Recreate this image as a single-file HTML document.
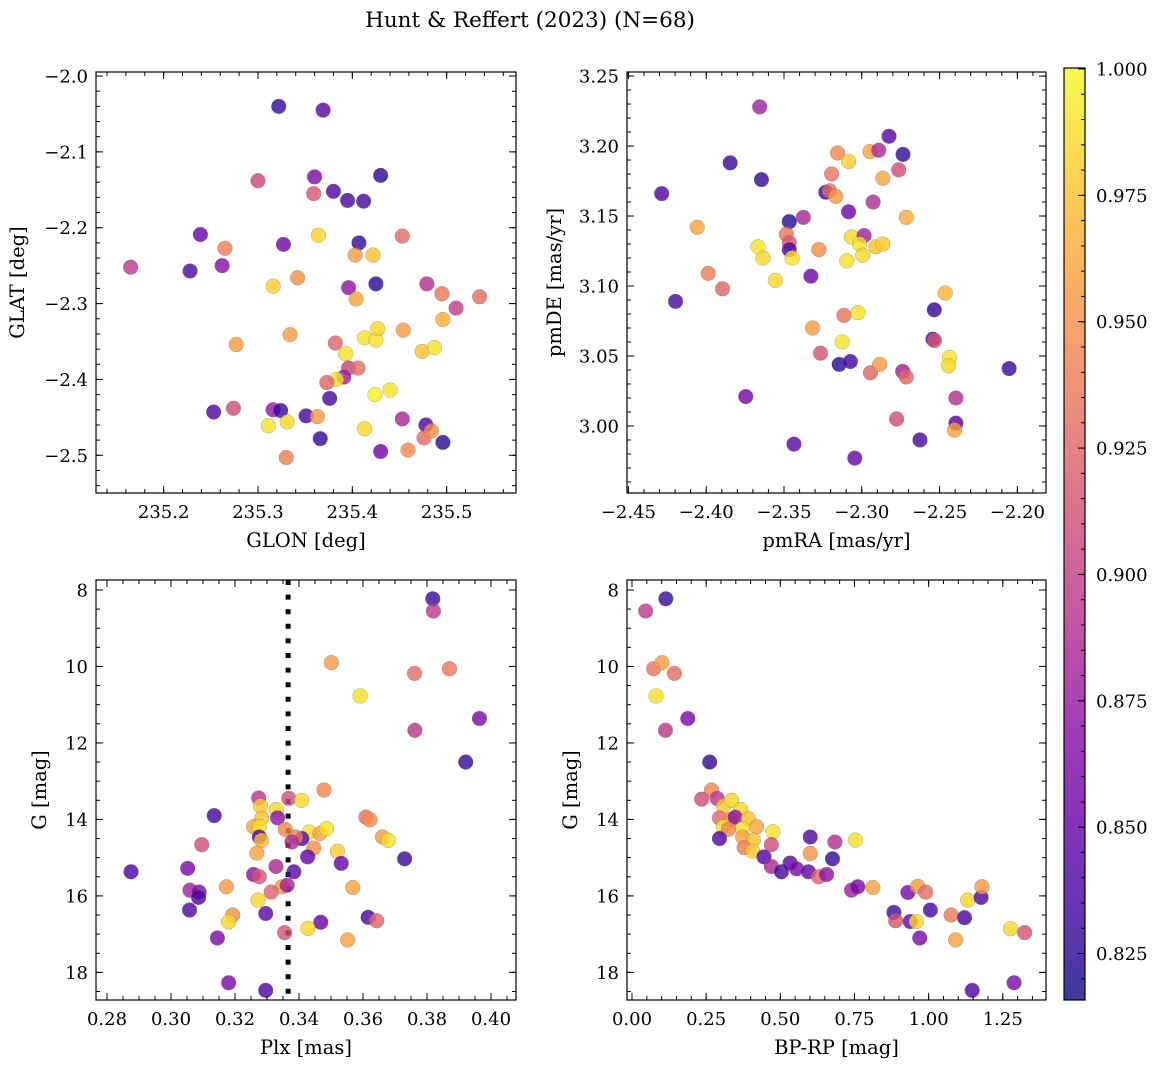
<!DOCTYPE html>
<html><head><meta charset="utf-8"><style>
html,body{margin:0;padding:0;background:#fff;}
svg{display:block;font-family:"DejaVu Serif","Liberation Serif",serif;}
</style></head><body>
<svg id="fig" width="1161" height="1068" viewBox="0 0 1161 1068" xmlns="http://www.w3.org/2000/svg">
<text x="530" y="27" font-size="21.5" text-anchor="middle">Hunt &amp; Reffert (2023) (N=68)</text>
</svg>
<script>
// ---- Panel 1: GLON vs GLAT ----
const p1_x=[235.322,235.369,235.300,235.360,235.430,235.359,235.380,235.395,235.412,235.239,235.265,235.165,235.228,235.262,235.327,235.364,235.407,235.453,235.403,235.422,235.316,235.342,235.396,235.425,235.479,235.495,235.510,235.535,235.404,235.496,235.277,235.334,235.382,235.413,235.425,235.427,235.454,235.393,235.474,235.487,235.396,235.406,235.391,235.383,235.373,235.440,235.424,235.376,235.253,235.274,235.316,235.324,235.311,235.331,235.351,235.363,235.366,235.330,235.413,235.430,235.453,235.459,235.478,235.476,235.484,235.496];
const p1_y=[-2.040,-2.045,-2.138,-2.133,-2.131,-2.155,-2.152,-2.164,-2.165,-2.209,-2.227,-2.252,-2.257,-2.250,-2.222,-2.210,-2.220,-2.211,-2.236,-2.236,-2.277,-2.266,-2.279,-2.274,-2.274,-2.287,-2.306,-2.291,-2.294,-2.321,-2.354,-2.341,-2.352,-2.345,-2.348,-2.333,-2.335,-2.366,-2.363,-2.358,-2.385,-2.385,-2.397,-2.400,-2.404,-2.414,-2.420,-2.425,-2.443,-2.438,-2.440,-2.441,-2.461,-2.456,-2.448,-2.449,-2.478,-2.503,-2.465,-2.495,-2.452,-2.493,-2.460,-2.477,-2.468,-2.483];
const p1_c=[.83,.845,.905,.86,.825,.915,.84,.84,.835,.85,.94,.895,.84,.865,.855,.985,.83,.93,.955,.975,.98,.95,.87,.825,.89,.935,.90,.93,.96,.965,.955,.955,.925,.99,.99,.985,.955,.99,.975,.99,.905,.93,.88,.99,.925,.99,.995,.835,.84,.91,.875,.83,.99,.985,.835,.955,.83,.94,.985,.855,.885,.945,.84,.93,.95,.825];
// ---- Panel 2: pmRA vs pmDE ----
const p2_x=[-2.3656,-2.3846,-2.3645,-2.4286,-2.4058,-2.4197,-2.3987,-2.3895,-2.3746,-2.3667,-2.3635,-2.3556,-2.3466,-2.3485,-2.3466,-2.3466,-2.3447,-2.3376,-2.3436,-2.3327,-2.3276,-2.3316,-2.3265,-2.3231,-2.3207,-2.3167,-2.3194,-2.3156,-2.3085,-2.3085,-2.3066,-2.2985,-2.3015,-2.2994,-2.3096,-2.2910,-2.2865,-2.3115,-2.3024,-2.3126,-2.3145,-2.3073,-2.3045,-2.2944,-2.2885,-2.2947,-2.2891,-2.2825,-2.2735,-2.2763,-2.2865,-2.2927,-2.2714,-2.2737,-2.2714,-2.2776,-2.2626,-2.2464,-2.2534,-2.2543,-2.2532,-2.2436,-2.2442,-2.2395,-2.2395,-2.2404,-2.2053];
const p2_y=[3.228,3.188,3.176,3.166,3.142,3.089,3.109,3.098,3.021,3.128,3.120,3.104,3.146,3.137,3.131,3.126,3.120,3.149,2.987,3.107,3.126,3.070,3.052,3.167,3.168,3.164,3.180,3.195,3.189,3.153,3.135,3.136,3.130,3.122,3.118,3.128,3.130,3.079,3.081,3.060,3.044,3.046,2.977,3.038,3.044,3.196,3.197,3.207,3.194,3.183,3.177,3.160,3.149,3.039,3.035,3.005,2.990,3.095,3.083,3.062,3.061,3.049,3.043,3.020,3.002,2.997,3.041];
const p2_c=[.88,.83,.83,.84,.96,.835,.94,.925,.855,.99,.985,.985,.825,.935,.92,.84,.99,.885,.845,.855,.95,.955,.915,.83,.93,.955,.935,.945,.98,.855,.985,.88,.99,.985,.99,.975,.98,.935,.99,.99,.825,.835,.85,.925,.955,.96,.885,.845,.83,.91,.96,.89,.965,.88,.925,.91,.835,.97,.83,.84,.915,.99,.985,.89,.845,.96,.83];
// ---- Panel 3: Plx vs G ----
const p3_x=[0.3818,0.3820,0.3501,0.3761,0.3870,0.3591,0.3964,0.3762,0.3921,0.3478,0.3274,0.3368,0.3408,0.3280,0.3329,0.3135,0.3333,0.3283,0.3609,0.3622,0.3258,0.3276,0.3357,0.3432,0.3465,0.3486,0.3276,0.3283,0.3409,0.3389,0.3378,0.3661,0.3679,0.3096,0.3268,0.3446,0.3520,0.3427,0.3532,0.3730,0.3052,0.2875,0.3328,0.3384,0.3258,0.3276,0.3173,0.3347,0.3363,0.3313,0.3568,0.3059,0.3088,0.3086,0.3272,0.3058,0.3193,0.3180,0.3296,0.3468,0.3616,0.3643,0.3355,0.3428,0.3552,0.3145,0.3180,0.3296];
const p3_y=[8.23,8.55,9.90,10.18,10.06,10.77,11.36,11.67,12.50,13.23,13.44,13.45,13.50,13.65,13.74,13.90,13.96,13.97,13.94,14.01,14.19,14.19,14.26,14.33,14.37,14.24,14.46,14.55,14.50,14.46,14.59,14.46,14.55,14.66,14.88,14.75,14.83,14.98,15.15,15.03,15.28,15.37,15.23,15.37,15.44,15.50,15.76,15.76,15.72,15.90,15.78,15.85,15.90,16.04,16.11,16.37,16.50,16.68,16.46,16.69,16.56,16.65,16.96,16.85,17.15,17.10,18.27,18.47];
const p3_c=[.83,.895,.955,.93,.935,.99,.86,.895,.83,.945,.895,.91,.985,.98,.985,.835,.87,.975,.93,.95,.96,.99,.945,.99,.96,.99,.84,.975,.84,.94,.89,.955,.99,.91,.96,.95,.98,.85,.85,.83,.86,.835,.885,.845,.87,.915,.955,.955,.88,.925,.96,.88,.86,.84,.985,.84,.95,.985,.845,.85,.835,.925,.915,.985,.96,.86,.86,.84];
const plx_ref=[0.3366];
// ---- Panel 4: BP-RP vs G ----
const p4_x=[0.114,0.046,0.073,0.101,0.143,0.081,0.188,0.113,0.262,0.268,0.235,0.287,0.309,0.336,0.367,0.295,0.333,0.348,0.392,0.420,0.372,0.308,0.325,0.295,0.373,0.409,0.378,0.407,0.475,0.470,0.445,0.470,0.504,0.533,0.555,0.595,0.601,0.601,0.629,0.656,0.684,0.676,0.753,0.740,0.761,0.812,0.883,0.889,0.930,0.963,0.990,0.938,0.959,0.970,1.006,1.076,1.091,1.121,1.132,1.177,1.180,1.276,1.324,1.147,1.288];
const p4_y=[8.23,8.55,10.06,9.90,10.18,10.77,11.36,11.67,12.50,13.23,13.47,13.45,13.65,13.50,13.74,13.96,14.00,13.94,13.98,14.19,14.24,14.20,14.26,14.50,14.46,14.54,14.74,14.83,14.32,14.66,14.98,15.23,15.37,15.14,15.29,15.37,14.46,14.89,15.50,15.44,14.59,15.03,14.54,15.85,15.76,15.78,16.43,16.65,15.91,15.75,15.90,16.67,16.67,17.10,16.37,16.50,17.15,16.57,16.11,16.04,15.76,16.86,16.96,18.47,18.27];
const p4_c=[.83,.895,.935,.955,.93,.99,.86,.895,.83,.945,.91,.895,.98,.985,.985,.93,.95,.87,.975,.96,.99,.99,.945,.84,.96,.975,.94,.98,.99,.91,.84,.885,.835,.845,.86,.845,.84,.95,.925,.87,.89,.83,.99,.88,.86,.96,.835,.915,.86,.955,.93,.85,.985,.86,.835,.94,.96,.835,.985,.84,.955,.985,.915,.84,.86];
// ---- tick labels ----
const p1_xticks=[235.2,235.3,235.4,235.5];
const p1_yticks=[-2.0,-2.1,-2.2,-2.3,-2.4,-2.5];
const p2_xticks=[-2.45,-2.40,-2.35,-2.30,-2.25,-2.20];
const p2_yticks=[3.00,3.05,3.10,3.15,3.20,3.25];
const p3_xticks=[0.28,0.30,0.32,0.34,0.36,0.38,0.40];
const g_yticks=[8,10,12,14,16,18];
const p4_xticks=[0.00,0.25,0.50,0.75,1.00,1.25];
const cb_ticks=[0.825,0.850,0.875,0.900,0.925,0.950,0.975,1.000];

const NS="http://www.w3.org/2000/svg";
const svg=document.getElementById('fig');
function mk(tag,attrs,parent){const e=document.createElementNS(NS,tag);for(const k in attrs)e.setAttribute(k,attrs[k]);(parent||svg).appendChild(e);return e;}
const stops=["#0d0887","#41049d","#6a00a8","#8f0da4","#b12a90","#cc4778","#e16462","#f2844b","#fca636","#fcce25","#f0f921"];
function hex(h){return [1,3,5].map(i=>parseInt(h.substr(i,2),16));}
const CMIN=0.8158,CMAX=1.0002;
function cmap(v){let t=(v-CMIN)/(CMAX-CMIN);t=Math.max(0,Math.min(1,t));const f=t*10,i=Math.min(9,Math.floor(f)),r=f-i;const a=hex(stops[i]),b=hex(stops[i+1]);return 'rgb('+a.map((x,k)=>Math.round(x+(b[k]-x)*r)).join(',')+')';}
function fmt(v,d){const s=Math.abs(v).toFixed(d);return (v<-1e-9?'\u2212':'')+s;}
const TF=18, LF=19.5;

function panel(o){
  const g=mk('g',{});
  
  
  const X=v=>o.x0+(v-o.xr[0])/(o.xr[1]-o.xr[0])*(o.x1-o.x0);
  const Y=v=>o.y0+(o.yr[1]-v)/(o.yr[1]-o.yr[0])*(o.y1-o.y0);
  if(o.vline){const l=mk('line',{x1:X(o.vline[0]),x2:X(o.vline[0]),y1:o.y0,y2:o.y1,stroke:'#000','stroke-width':5,'stroke-dasharray':'5 9.6'},g);
    }
  for(let i=0;i<o.xs.length;i++){
    const c=mk('circle',{cx:X(o.xs[i]),cy:Y(o.ys[i]),r:7.4,fill:cmap(o.cs[i]),'fill-opacity':0.8,stroke:'#777','stroke-opacity':0.6,'stroke-width':0.5},g);
    
    
  }
  const fr=mk('rect',{x:o.x0,y:o.y0,width:o.x1-o.x0,height:o.y1-o.y0,fill:'none',stroke:'#000','stroke-width':1.2},g);
  
  function xt(v,len){const x=X(v);if(x<o.x0-0.5||x>o.x1+0.5)return;mk('line',{x1:x,x2:x,y1:o.y1,y2:o.y1-len,stroke:'#000','stroke-width':1},g);mk('line',{x1:x,x2:x,y1:o.y0,y2:o.y0+len,stroke:'#000','stroke-width':1},g);}
  function yt(v,len){const y=Y(v);if(y<o.y0-0.5||y>o.y1+0.5)return;mk('line',{x1:o.x0,x2:o.x0+len,y1:y,y2:y,stroke:'#000','stroke-width':1},g);mk('line',{x1:o.x1,x2:o.x1-len,y1:y,y2:y,stroke:'#000','stroke-width':1},g);}
  for(let v=Math.ceil(o.xr[0]/o.xm)*o.xm;v<=o.xr[1];v+=o.xm)xt(v,4);
  for(let v=Math.ceil(o.yr[0]/o.ym)*o.ym;v<=o.yr[1];v+=o.ym)yt(v,4);
  o.xt.forEach(v=>{xt(v,7);const t=mk('text',{x:X(v),y:o.y1+25,'font-size':TF,'text-anchor':'middle'},g);t.textContent=fmt(v,o.xd);});
  o.yt.forEach(v=>{yt(v,7);const t=mk('text',{x:o.x0-8,y:Y(v)+6.5,'font-size':TF,'text-anchor':'end'},g);t.textContent=o.neg?fmt(-v,o.yd):fmt(v,o.yd);});
  const xl=mk('text',{x:(o.x0+o.x1)/2,y:o.y1+54,'font-size':LF,'text-anchor':'middle'},g);xl.textContent=o.xl;
  
  const yx=o.ylx,yy=(o.y0+o.y1)/2;
  const yl=mk('text',{x:yx,y:yy,'font-size':LF,'text-anchor':'middle',transform:'rotate(-90 '+yx+' '+yy+')'},g);yl.textContent=o.yl;
  
}
panel({name:'glon-glat-panel',x0:96,y0:72,x1:516,y1:493,xr:[235.1283,235.5735],yr:[-2.5497,-1.9947],xs:p1_x,ys:p1_y,cs:p1_c,xt:p1_xticks,yt:p1_yticks,xd:1,yd:1,xm:0.02,ym:0.02,xl:'GLON [deg]',yl:'GLAT [deg]',ylx:24});
panel({name:'pmra-pmde-panel',x0:627,y0:72,x1:1046,y1:493,xr:[-2.4509,-2.1816],yr:[2.9521,3.2529],xs:p2_x,ys:p2_y,cs:p2_c,xt:p2_xticks,yt:p2_yticks,xd:2,yd:2,xm:0.01,ym:0.01,xl:'pmRA [mas/yr]',yl:'pmDE [mas/yr]',ylx:561});
panel({name:'plx-g-panel',x0:96,y0:580,x1:516,y1:1000,xr:[0.27656,0.40781],yr:[-18.722,-7.739],xs:p3_x,ys:p3_y.map(v=>-v),cs:p3_c,xt:p3_xticks,yt:g_yticks.map(v=>-v),neg:true,xd:2,yd:0,xm:0.005,ym:0.5,xl:'Plx [mas]',yl:'G [mag]',ylx:46,vline:plx_ref});
panel({name:'bprp-g-panel',x0:627,y0:580,x1:1046,y1:1000,xr:[-0.0168,1.3957],yr:[-18.722,-7.739],xs:p4_x,ys:p4_y.map(v=>-v),cs:p4_c,xt:p4_xticks,yt:g_yticks.map(v=>-v),neg:true,xd:2,yd:0,xm:0.05,ym:0.5,xl:'BP-RP [mag]',yl:'G [mag]',ylx:577});

// ---- colorbar ----
const cb=mk('g',{});


const cx0=1064,cx1=1085,cy0=68,cy1=1000;
const CY=v=>cy1-(v-CMIN)/(CMAX-CMIN)*(cy1-cy0);
const defs=mk('defs',{},cb);
const lg=mk('linearGradient',{id:'plasma',x1:0,y1:1,x2:0,y2:0},defs);
stops.forEach((s,i)=>mk('stop',{offset:(i/10),'stop-color':s},lg));
const cbr=mk('rect',{x:cx0,y:cy0,width:cx1-cx0,height:cy1-cy0,fill:'url(#plasma)','fill-opacity':0.8},cb);

mk('rect',{x:cx0,y:cy0,width:cx1-cx0,height:cy1-cy0,fill:'none',stroke:'#000','stroke-width':1.2},cb);
for(let v=0.82;v<=1.0001;v+=0.005){mk('line',{x1:cx1,x2:cx1-4,y1:CY(v),y2:CY(v),stroke:'#000','stroke-width':1},cb);}
cb_ticks.forEach(v=>{mk('line',{x1:cx1,x2:cx1-7,y1:CY(v),y2:CY(v),stroke:'#000','stroke-width':1},cb);
  const t=mk('text',{x:cx1+11,y:CY(v)+6.5,'font-size':TF},cb);t.textContent=v.toFixed(3);
  });
</script>
</body></html>
